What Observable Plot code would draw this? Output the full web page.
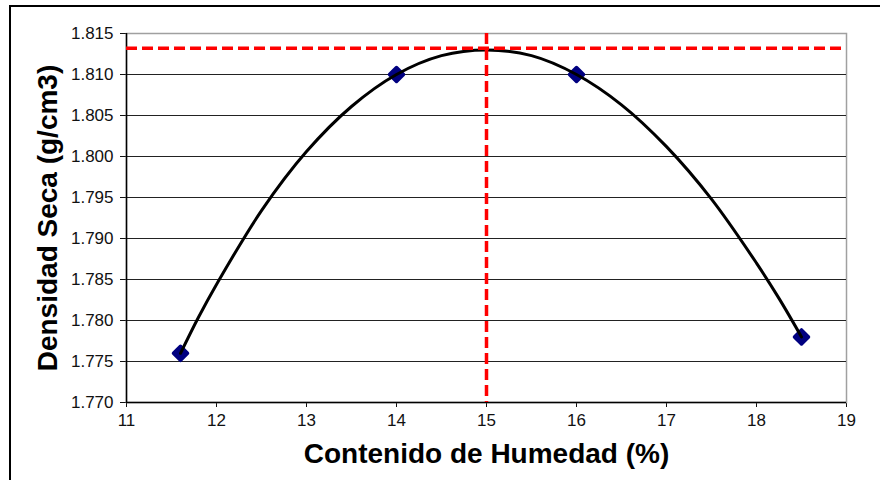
<!DOCTYPE html>
<html><head><meta charset="utf-8">
<script src="https://cdn.jsdelivr.net/npm/d3@7"></script>
<script src="https://cdn.jsdelivr.net/npm/@observablehq/plot@0.6"></script>
<style>
html,body{margin:0;padding:0;background:#fff;overflow:hidden;}
#wrap{position:relative;width:880px;height:480px;overflow:hidden;}
#border{position:absolute;left:9px;top:5px;width:900px;height:500px;border:2px solid #000;pointer-events:none;box-sizing:border-box;}
</style></head><body>
<div id="wrap"><div id="chart"></div><div id="border"></div></div>
<script>
// Measured points
const humedad = [11.6, 14.0, 16.0, 18.5];
const densidad = [1.776, 1.810, 1.810, 1.778];
// Fitted trend curve
const curveX = [11.6, 11.8, 12.0, 12.5, 13.0, 13.5, 14.0, 14.5, 15.0, 15.5, 16.0, 16.5, 17.0, 17.5, 18.0, 18.25, 18.5];
const curveY = [1.776, 1.7804, 1.7844, 1.7934, 1.8006, 1.8061, 1.810, 1.8123, 1.8130, 1.8123, 1.810, 1.8063, 1.8012, 1.7948, 1.7870, 1.7827, 1.778];
// Optimum
const optHumedad = [15.0];
const maxDensidad = [1.8132];
// Axes
const xTicks = [11, 12, 13, 14, 15, 16, 17, 18, 19];
const yTicks = [1.770, 1.775, 1.780, 1.785, 1.790, 1.795, 1.800, 1.805, 1.810, 1.815];
const xTitle = "Contenido de Humedad (%)";
const yTitle = "Densidad Seca (g/cm3)";

const points = humedad.map((x, i) => ({x, y: densidad[i]}));
const curve = curveX.map((x, i) => ({x, y: curveY[i]}));
const gridVals = yTicks.slice(1, -1);

const chart = Plot.plot({
  width: 880, height: 480,
  marginLeft: 126, marginRight: 34, marginTop: 33, marginBottom: 78,
  style: {fontFamily: "'Liberation Sans', Arial, sans-serif", fontSize: "17px", color: "#111", background: "transparent"},
  x: {domain: [xTicks[0], xTicks[xTicks.length - 1]], ticks: xTicks, tickSize: 5, tickPadding: 6, label: null, tickFormat: d3.format("d")},
  y: {domain: [yTicks[0], yTicks[yTicks.length - 1]], ticks: yTicks, tickSize: 6, tickPadding: 7, label: null, tickFormat: d3.format(".3f")},
  marks: [
    Plot.frame({stroke: "#a0a0a0", strokeWidth: 1.5}),
    Plot.ruleY(gridVals, {stroke: "#222", strokeWidth: 1.2}),
    Plot.ruleX([xTicks[0]], {stroke: "#000", strokeWidth: 1.5}),
    Plot.ruleY([yTicks[0]], {stroke: "#000", strokeWidth: 1.5}),
    Plot.dot(points, {x: "x", y: "y", symbol: "square", rotate: 45, r: 5.6, fill: "#000080", stroke: "#000080", strokeWidth: 3.5, strokeLinejoin: "round"}),
    Plot.line(curve, {x: "x", y: "y", curve: "catmull-rom", stroke: "#000", strokeWidth: 3}),
    Plot.ruleY(maxDensidad, {stroke: "#ff0000", strokeWidth: 3.5, strokeDasharray: "11,5"}),
    Plot.ruleX(optHumedad, {stroke: "#ff0000", strokeWidth: 3.5, strokeDasharray: "11,5"}),
    Plot.text([yTitle], {text: d => d, frameAnchor: "left", textAnchor: "middle", lineAnchor: "middle", dx: -78, rotate: -90, fontSize: 28, fontWeight: "bold", fill: "#000"}),
    Plot.text([xTitle], {text: d => d, frameAnchor: "bottom", textAnchor: "middle", lineAnchor: "middle", dy: 52, fontSize: 28, fontWeight: "bold", fill: "#000"})
  ]
});
document.getElementById("chart").appendChild(chart);
</script>
</body></html>
